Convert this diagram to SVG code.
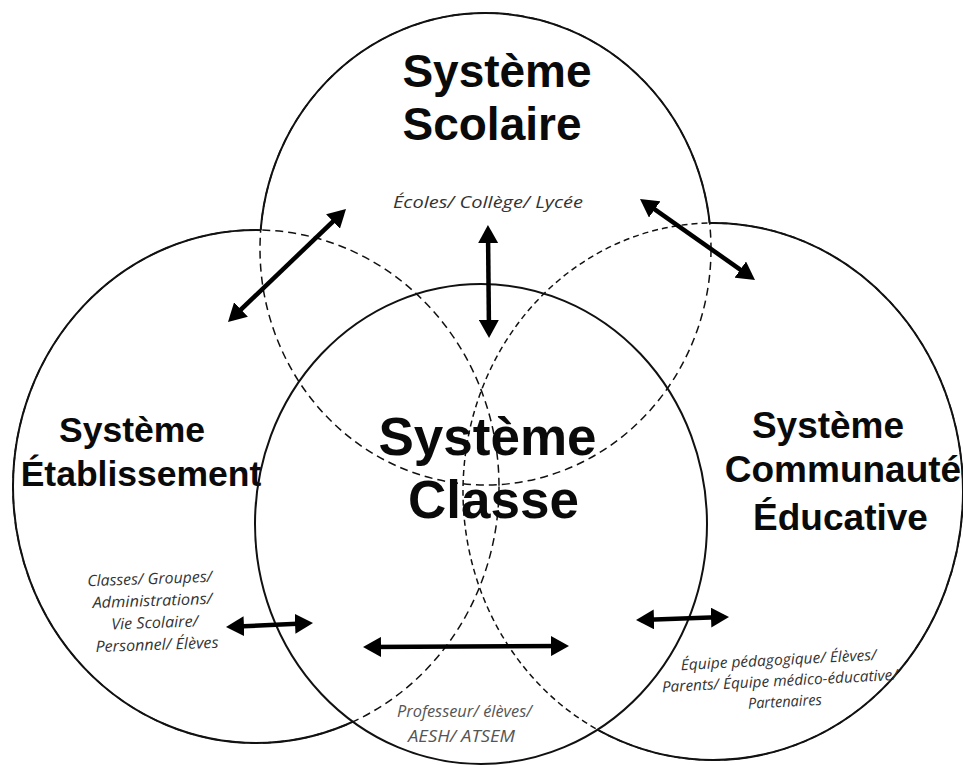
<svg xmlns="http://www.w3.org/2000/svg" width="963" height="765" viewBox="0 0 963 765">
<style>
.dash{fill:none;stroke:#111;stroke-width:1.5;stroke-dasharray:8 5}
.dash2{fill:none;stroke:#111;stroke-width:1.5;stroke-dasharray:6 4}
.solid{fill:none;stroke:#111;stroke-width:2}
.title{font-family:"Liberation Sans",Arial,sans-serif;font-weight:bold;fill:#0a0a0a;text-anchor:middle}
.sub{font-family:"Open Sans",Lato,sans-serif;font-style:italic;fill:#333;text-anchor:middle}
.grey{fill:#555}
.arrow{fill:none;stroke:#000;stroke-width:4.5;marker-start:url(#ah);marker-end:url(#ah)}
</style>
<defs>
<marker id="ah" markerUnits="userSpaceOnUse" markerWidth="18" markerHeight="20" refX="13" refY="10" orient="auto-start-reverse" viewBox="0 0 18 20">
<path d="M0,0 L18,10 L0,20 z" fill="#000"/>
</marker>
<mask id="mS" maskUnits="userSpaceOnUse" x="0" y="0" width="963" height="765">
<rect width="963" height="765" fill="#fff"/>
<ellipse cx="256" cy="486.5" rx="243" ry="256.5" fill="#000"/>
<ellipse cx="713" cy="491.5" rx="250" ry="268.5" fill="#000"/>
<ellipse cx="481" cy="524" rx="226" ry="240" fill="#000"/>
</mask>
<mask id="mE" maskUnits="userSpaceOnUse" x="0" y="0" width="963" height="765">
<rect width="963" height="765" fill="#fff"/>
<ellipse cx="485.5" cy="249" rx="225.5" ry="236" fill="#000"/>
<ellipse cx="713" cy="491.5" rx="250" ry="268.5" fill="#000"/>
<ellipse cx="481" cy="524" rx="226" ry="240" fill="#000"/>
</mask>
<mask id="mC" maskUnits="userSpaceOnUse" x="0" y="0" width="963" height="765">
<rect width="963" height="765" fill="#fff"/>
<ellipse cx="485.5" cy="249" rx="225.5" ry="236" fill="#000"/>
<ellipse cx="256" cy="486.5" rx="243" ry="256.5" fill="#000"/>
<ellipse cx="481" cy="524" rx="226" ry="240" fill="#000"/>
</mask>
</defs>
<rect width="963" height="765" fill="#fff"/>

<g id="node-scolaire">
<ellipse class="dash" cx="485.5" cy="249" rx="225.5" ry="236"/>
<ellipse class="solid" cx="485.5" cy="249" rx="225.5" ry="236" mask="url(#mS)"/>
<text class="title" font-size="46" x="497" y="87">Système</text>
<text class="title" font-size="46" x="492" y="140">Scolaire</text>
<text class="sub" font-size="17" x="488" y="208" textLength="190" lengthAdjust="spacingAndGlyphs">Écoles/ Collège/ Lycée</text>
</g>

<g id="node-etablissement">
<ellipse class="dash" cx="256" cy="486.5" rx="243" ry="256.5"/>
<ellipse class="solid" cx="256" cy="486.5" rx="243" ry="256.5" mask="url(#mE)"/>
<text class="title" font-size="35.5" x="132" y="442">Système</text>
<text class="title" font-size="35.5" x="141" y="486">Établissement</text>
<g transform="rotate(-2 153 617)">
<text class="sub" font-size="15.5" x="151" y="584" textLength="125" lengthAdjust="spacingAndGlyphs">Classes/ Groupes/</text>
<text class="sub" font-size="15.5" x="153" y="606" textLength="120" lengthAdjust="spacingAndGlyphs">Administrations/</text>
<text class="sub" font-size="15.5" x="154.5" y="628" textLength="87" lengthAdjust="spacingAndGlyphs">Vie Scolaire/</text>
<text class="sub" font-size="15.5" x="156" y="650" textLength="123" lengthAdjust="spacingAndGlyphs">Personnel/ Élèves</text>
</g>
</g>

<g id="node-communaute">
<ellipse class="dash2" cx="713" cy="491.5" rx="250" ry="268.5"/>
<ellipse class="solid" cx="713" cy="491.5" rx="250" ry="268.5" mask="url(#mC)"/>
<text class="title" font-size="37" x="828" y="438">Système</text>
<text class="title" font-size="37" x="843" y="482">Communauté</text>
<text class="title" font-size="37" x="840.5" y="530">Éducative</text>
<g transform="rotate(-3 780 686)">
<text class="sub" font-size="15" x="780" y="665" textLength="196" lengthAdjust="spacingAndGlyphs">Équipe pédagogique/ Élèves/</text>
<text class="sub" font-size="15" x="780" y="686" textLength="236" lengthAdjust="spacingAndGlyphs">Parents/ Équipe médico-éducative/</text>
<text class="sub" font-size="15" x="784" y="707" textLength="74" lengthAdjust="spacingAndGlyphs">Partenaires</text>
</g>
</g>

<g id="node-classe">
<ellipse class="solid" cx="481" cy="524" rx="226" ry="240"/>
<text class="title" font-size="53" x="487.5" y="455">Système</text>
<text class="title" font-size="53" x="493.5" y="518">Classe</text>
<text class="sub grey" font-size="16.5" x="464.5" y="717" textLength="135" lengthAdjust="spacingAndGlyphs">Professeur/ élèves/</text>
<text class="sub grey" font-size="16.5" x="461.5" y="742" textLength="107" lengthAdjust="spacingAndGlyphs">AESH/ ATSEM</text>
</g>

<g id="connectors">
<line class="arrow" x1="342.4" y1="212.5" x2="231.6" y2="318.5"/>
<line class="arrow" x1="488" y1="230" x2="489" y2="333"/>
<line class="arrow" x1="644.1" y1="201.9" x2="750.9" y2="277.1"/>
<line class="arrow" x1="231" y1="626.8" x2="308" y2="623.2"/>
<line class="arrow" x1="368" y1="647" x2="564" y2="646"/>
<line class="arrow" x1="641" y1="619.9" x2="724" y2="617.1"/>
</g>
</svg>
